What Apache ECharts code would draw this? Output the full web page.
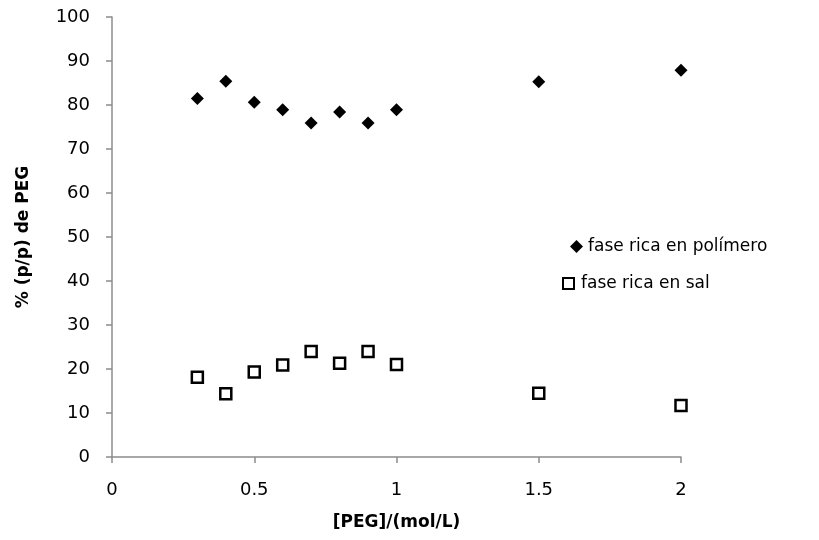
<!DOCTYPE html>
<html>
<head>
<meta charset="utf-8">
<script src="https://cdn.jsdelivr.net/npm/echarts@6/dist/echarts.min.js"></script>
<style>html,body{margin:0;padding:0;background:#fff}#c{width:819px;height:540px}</style>
</head>
<body>
<div id="c"></div>
<script>
const xValues = [0.3, 0.4, 0.5, 0.6, 0.7, 0.8, 0.9, 1.0, 1.5, 2.0];
const polymerPhase = [81.5, 85.4, 80.6, 78.9, 75.9, 78.4, 75.9, 78.9, 85.3, 87.9];
const saltPhase = [18.1, 14.4, 19.3, 20.9, 24.0, 21.3, 24.0, 21.0, 14.5, 11.7];
const seriesNames = ['fase rica en polímero', 'fase rica en sal'];
const xTitle = '[PEG]/(mol/L)';
const yTitle = '% (p/p) de PEG';

const FONT = 'DejaVu Sans';
const chart = echarts.init(document.getElementById('c'), null, {renderer: 'canvas'});
const axisColor = '#8c8c8c';
const legendText = {fontFamily: FONT, fontSize: 17, color: '#000'};
chart.setOption({
  animation: false,
  backgroundColor: '#fff',
  textStyle: {fontFamily: FONT},
  grid: {left: 112, right: 138, top: 17, bottom: 83, containLabel: false},
  legend: [
    {
      orient: 'vertical', left: 570, top: 238, itemGap: 0,
      itemWidth: 13, itemHeight: 13, padding: 0,
      textStyle: Object.assign({padding: [0, 0, 0, 0]}, legendText),
      data: [{name: seriesNames[0], icon: 'diamond'}]
    },
    {
      orient: 'vertical', left: 562, top: 275, itemGap: 0,
      itemWidth: 11, itemHeight: 11, padding: 0,
      textStyle: Object.assign({padding: [0, 0, 0, 2]}, legendText),
      data: [{name: seriesNames[1], icon: 'rect'}]
    }
  ],
  xAxis: {
    type: 'value', min: 0, max: 2, interval: 0.5,
    name: xTitle, nameLocation: 'middle', nameGap: 57,
    nameTextStyle: {fontFamily: FONT, fontSize: 17, fontWeight: 'bold', color: '#000'},
    axisLine: {show: true, onZero: false, lineStyle: {color: axisColor, width: 1.5}},
    axisTick: {show: true, length: 6, lineStyle: {color: axisColor, width: 1.5}},
    axisLabel: {fontFamily: FONT, fontSize: 18, color: '#000', margin: 24},
    splitLine: {show: false}
  },
  yAxis: {
    type: 'value', min: 0, max: 100, interval: 10,
    name: yTitle, nameLocation: 'middle', nameGap: 80, nameRotate: 90,
    nameTextStyle: {fontFamily: FONT, fontSize: 17, fontWeight: 'bold', color: '#000'},
    axisLine: {show: true, lineStyle: {color: axisColor, width: 1.5}},
    axisTick: {show: true, length: 6, lineStyle: {color: axisColor, width: 1.5}},
    axisLabel: {fontFamily: FONT, fontSize: 18, color: '#000', margin: 22},
    splitLine: {show: false}
  },
  series: [
    {
      name: seriesNames[0], type: 'scatter', symbol: 'diamond', symbolSize: 13,
      itemStyle: {color: '#000', opacity: 1},
      data: xValues.map((x, i) => [x, polymerPhase[i]])
    },
    {
      name: seriesNames[1], type: 'scatter', symbol: 'rect', symbolSize: 11,
      itemStyle: {color: '#fff', borderColor: '#000', borderWidth: 2.5, opacity: 1},
      data: xValues.map((x, i) => [x, saltPhase[i]])
    }
  ]
});
</script>
</body>
</html>
